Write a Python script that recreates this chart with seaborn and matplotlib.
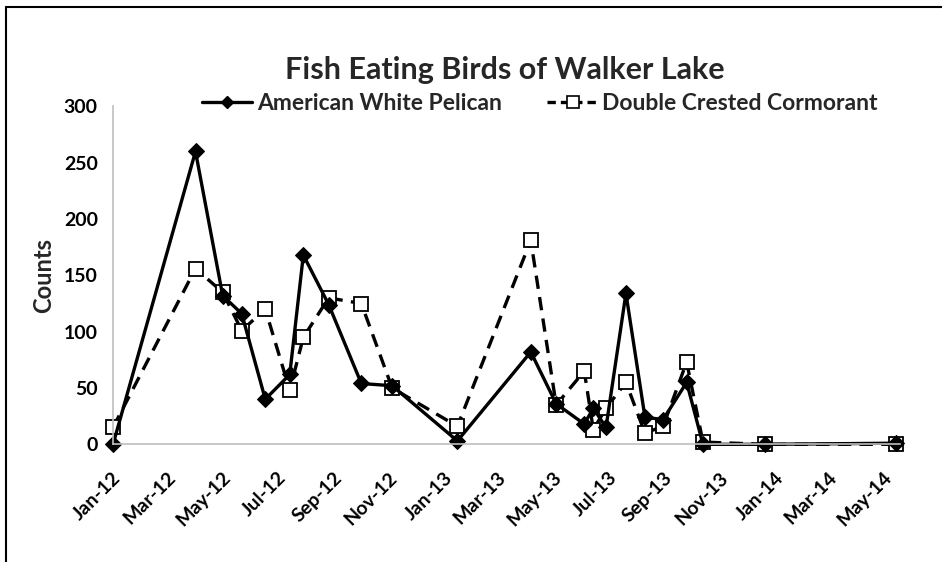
import matplotlib
matplotlib.use("Agg")
import matplotlib.pyplot as plt
import matplotlib.dates as mdates
import matplotlib.transforms as mtransforms
from matplotlib.lines import Line2D
import seaborn as sns
import pandas as pd

# survey dates
survey_dates = ["2012-01-01", "2012-04-01", "2012-05-01", "2012-05-22", "2012-06-17",
                "2012-07-14", "2012-07-29", "2012-08-26", "2012-10-01", "2012-11-04",
                "2013-01-15", "2013-04-06", "2013-05-04", "2013-06-04", "2013-06-14",
                "2013-06-28", "2013-07-20", "2013-08-10", "2013-08-30", "2013-09-25",
                "2013-10-13", "2013-12-21", "2014-05-14"]

pelican = [0, 260, 132, 116, 40, 62, 168, 124, 54, 52, 3, 82, 36, 18, 32, 15,
           134, 24, 22, 55, 0, 0, 1]
cormorant = [15, 156, 135, 101, 120, 48, 95, 130, 125, 50, 16, 181, 35, 65, 13,
             32, 55, 10, 16, 73, 2, 0, 0]

y_ticks = [0, 50, 100, 150, 200, 250, 300]

df = pd.DataFrame({"date": pd.to_datetime(survey_dates),
                   "pelican": pelican,
                   "cormorant": cormorant})

sns.set_style("white")
plt.rcParams["font.family"] = ["Lato", "DejaVu Sans"]
plt.rcParams["font.weight"] = "bold"

fig = plt.figure(figsize=(9.42, 5.62), dpi=100)
ax = fig.add_axes([0.12, 0.2094, 0.835, 0.6013])

dash = (0, (4, 2.5))

sns.lineplot(data=df, x="date", y="cormorant", ax=ax, color="black", linewidth=2.4,
             linestyle=dash, marker="s", markersize=9.5,
             markerfacecolor="white", markeredgecolor="black", markeredgewidth=1.3)
sns.lineplot(data=df, x="date", y="pelican", ax=ax, color="black", linewidth=2.4,
             marker="D", markersize=8, markeredgecolor="black", markerfacecolor="black")
for ln in ax.lines:
    ln.set_clip_on(False)

ax.set_xlim(pd.Timestamp("2012-01-01"), pd.Timestamp("2014-05-18"))
ax.set_ylim(0, 300)
ax.set_yticks(y_ticks)
ax.xaxis.set_major_locator(mdates.MonthLocator(bymonth=[1, 3, 5, 7, 9, 11]))
ax.xaxis.set_major_formatter(mdates.DateFormatter("%b-%y"))

ax.tick_params(axis="both", colors="#bfbfbf", labelcolor="black",
               length=6, width=1, direction="out")
ax.tick_params(axis="x", labelsize=14, pad=16)
ax.tick_params(axis="y", labelsize=14, pad=5)

shift = mtransforms.ScaledTranslation(5 / 100, 0, fig.dpi_scale_trans)
for lab in ax.get_xticklabels():
    lab.set_rotation(45)
    lab.set_ha("right")
    lab.set_va("center")
    lab.set_rotation_mode("anchor")
    lab.set_transform(lab.get_transform() + shift)
for lab in ax.get_xticklabels() + ax.get_yticklabels():
    lab.set_fontweight("bold")

ax.set_xlabel("")
ax.set_ylabel("Counts", fontsize=17, fontweight="bold", labelpad=6)

for side in ["top", "right"]:
    ax.spines[side].set_visible(False)
for side in ["left", "bottom"]:
    ax.spines[side].set_color("#bfbfbf")
    ax.spines[side].set_linewidth(1.2)

fig.text(0.536, 0.875, "Fish Eating Birds of Walker Lake", ha="center", va="center",
         fontsize=22, fontweight="bold")

handles = [Line2D([], [], color="black", linewidth=2.4, marker="D", markersize=6,
                  markerfacecolor="black"),
           Line2D([], [], color="black", linewidth=2.4, linestyle=(0, (2.5, 1.5)),
                  marker="s", markersize=8, markerfacecolor="white",
                  markeredgewidth=1.2)]
fig.legend(handles, ["American White Pelican", "Double Crested Cormorant"],
           loc="center", bbox_to_anchor=(0.573, 0.815), ncol=2, frameon=False,
           handlelength=2.2, handletextpad=0.2, columnspacing=2.0,
           numpoints=1, prop={"weight": "bold", "size": 16.5})

# chart border (top and left edges visible in the original)
fig.add_artist(Line2D([6 / 942, 6 / 942], [0, 1 - 7 / 562], color="black", linewidth=1.5,
                      transform=fig.transFigure))
fig.add_artist(Line2D([6 / 942, 1], [1 - 7 / 562, 1 - 7 / 562], color="black",
                      linewidth=1.5, transform=fig.transFigure))

fig.savefig("out.png", dpi=100, facecolor="white")
